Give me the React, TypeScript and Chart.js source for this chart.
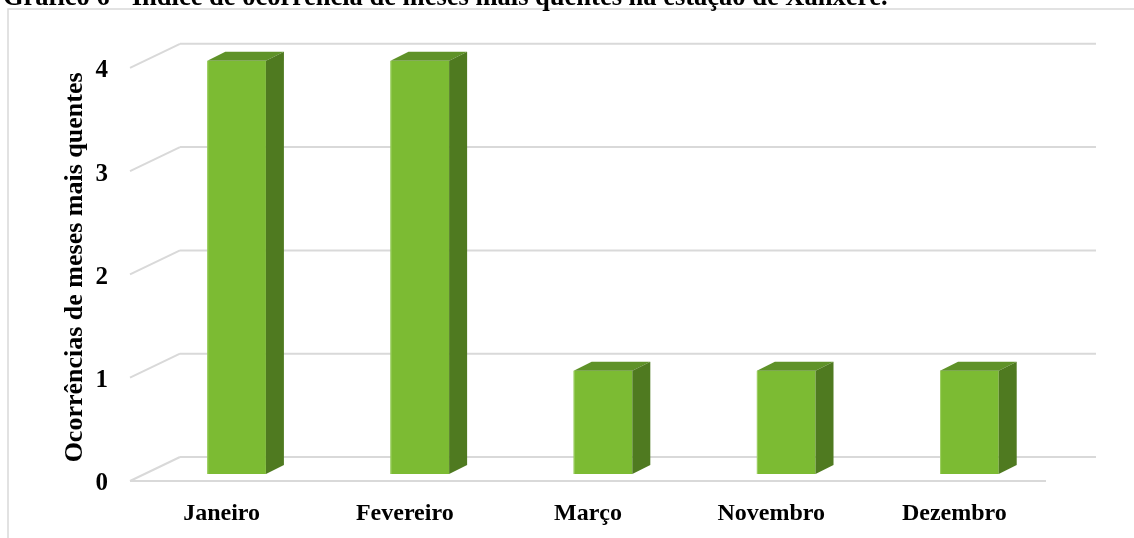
import React, { useEffect, useRef } from "react";
import { Chart, registerables } from "chart.js";

Chart.register(...registerables);

const categories = ["Janeiro", "Fevereiro", "Março", "Novembro", "Dezembro"];
const occurrences = [4, 4, 1, 1, 1];
const yTickValues = [0, 1, 2, 3, 4];
const chartTitle = "Gráfico 6 - Índice de ocorrência de meses mais quentes na estação de Xanxerê.";
const yAxisTitle = "Ocorrências de meses mais quentes";

const FONT = "'Liberation Serif', 'Times New Roman', serif";
const OY = 20; // canvas is shifted up so the title is clipped like the reference
const FRONT = { dx: -15, dy: 7 };
const BACK = { dx: 35, dy: -17 };
const BAR_DEPTH = { dx: 18, dy: -9 };
const GRID_COLOR = "#d9d9d9";
const FRONT_COLOR = "#7cbb33";
const SIDE_COLOR = "#4f7a20";
const TOP_COLOR = "#5f9228";

const threeD = {
  id: "threeD",
  beforeDraw(chart: any) {
    const ctx = chart.ctx;
    ctx.save();
    ctx.strokeStyle = GRID_COLOR;
    ctx.lineWidth = 1.5;
    ctx.strokeRect(8, 9 + OY, chart.width + 20, chart.height + 20);
    ctx.restore();
  },
  beforeDatasetsDraw(chart: any) {
    const ctx = chart.ctx;
    const { left, right } = chart.chartArea;
    const yScale = chart.scales.y;
    ctx.save();
    ctx.strokeStyle = GRID_COLOR;
    ctx.lineWidth = 2;
    yTickValues.forEach((v, i) => {
      const y = yScale.getPixelForValue(v);
      ctx.beginPath();
      ctx.moveTo(left + BACK.dx, y + BACK.dy);
      ctx.lineTo(right + BACK.dx, y + BACK.dy);
      ctx.moveTo(left + FRONT.dx, y + FRONT.dy);
      ctx.lineTo(left + BACK.dx, y + BACK.dy);
      if (i === 0) {
        ctx.moveTo(left + FRONT.dx, y + FRONT.dy);
        ctx.lineTo(right + FRONT.dx, y + FRONT.dy);
      }
      ctx.stroke();
    });
    ctx.restore();
  },
  afterDatasetsDraw(chart: any) {
    const ctx = chart.ctx;
    const meta = chart.getDatasetMeta(0);
    ctx.save();
    meta.data.forEach((bar: any) => {
      const { x, y, base, width } = bar.getProps(["x", "y", "base", "width"], true);
      const xL = x - width / 2;
      const xR = x + width / 2;
      // top face
      ctx.fillStyle = TOP_COLOR;
      ctx.beginPath();
      ctx.moveTo(xL, y);
      ctx.lineTo(xR, y);
      ctx.lineTo(xR + BAR_DEPTH.dx, y + BAR_DEPTH.dy);
      ctx.lineTo(xL + BAR_DEPTH.dx, y + BAR_DEPTH.dy);
      ctx.closePath();
      ctx.fill();
      // side face
      ctx.fillStyle = SIDE_COLOR;
      ctx.beginPath();
      ctx.moveTo(xR, y);
      ctx.lineTo(xR + BAR_DEPTH.dx, y + BAR_DEPTH.dy);
      ctx.lineTo(xR + BAR_DEPTH.dx, base + BAR_DEPTH.dy);
      ctx.lineTo(xR, base);
      ctx.closePath();
      ctx.fill();
      // light front edge
      ctx.strokeStyle = "#9fd066";
      ctx.lineWidth = 1;
      ctx.beginPath();
      ctx.moveTo(xL + 0.5, y);
      ctx.lineTo(xL + 0.5, base);
      ctx.stroke();
    });
    ctx.restore();
  },
};

export default function App() {
  const canvasRef = useRef<HTMLCanvasElement | null>(null);

  useEffect(() => {
    if (!canvasRef.current) return;
    const chart = new Chart(canvasRef.current, {
      type: "bar",
      data: {
        labels: categories,
        datasets: [
          {
            data: occurrences,
            backgroundColor: FRONT_COLOR,
            borderWidth: 0,
            barPercentage: 0.32,
            categoryPercentage: 1,
          },
        ],
      },
      options: {
        responsive: false,
        animation: false,
        layout: { padding: { left: 3, right: 73, top: 2, bottom: 0 } },
        plugins: {
          legend: { display: false },
          tooltip: { enabled: false },
          title: {
            display: true,
            text: chartTitle,
            align: "start",
            color: "#000",
            font: { family: FONT, size: 26.5, weight: "bold", lineHeight: 1.2 },
            padding: { top: 0, bottom: 47 },
          },
        },
        scales: {
          x: {
            grid: { display: false, drawTicks: false },
            border: { display: false },
            ticks: {
              color: "#000",
              font: { family: FONT, size: 24, weight: "bold" },
              labelOffset: FRONT.dx,
              padding: 25,
              maxRotation: 0,
              autoSkip: false,
            },
            afterFit: (scale: any) => {
              scale.height = 64;
            },
          },
          y: {
            min: 0,
            max: 4,
            grid: { display: false, drawTicks: false },
            border: { display: false },
            afterBuildTicks: (scale: any) => {
              scale.ticks = yTickValues.map((v) => ({ value: v }));
            },
            ticks: {
              color: "#000",
              font: { family: FONT, size: 25, weight: "bold" },
              padding: 37,
              labelOffset: 10,
            },
            title: {
              display: true,
              text: yAxisTitle,
              color: "#000",
              font: { family: FONT, size: 26, weight: "bold", lineHeight: 1.2 },
              padding: { top: 57, bottom: 0 },
            },
            afterFit: (scale: any) => {
              scale.width = 142;
            },
          },
        },
      },
      plugins: [threeD],
    });
    return () => chart.destroy();
  }, []);

  return (
    <div style={{ position: "fixed", left: 0, top: -OY, width: 1134, height: 538 + OY, overflow: "hidden" }}>
      <canvas ref={canvasRef} width={1134} height={538 + OY} style={{ display: "block" }} />
    </div>
  );
}
